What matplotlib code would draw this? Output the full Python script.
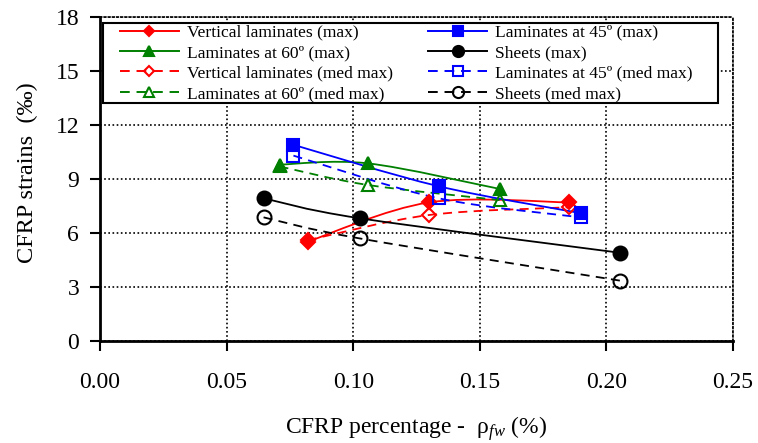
import matplotlib
matplotlib.use('Agg')
import matplotlib.pyplot as plt
from matplotlib.path import Path
from matplotlib.patches import PathPatch, Rectangle
from matplotlib.lines import Line2D

plt.rcParams['font.family'] = ['Liberation Serif', 'DejaVu Serif']
plt.rcParams['mathtext.fontset'] = 'custom'
plt.rcParams['mathtext.rm'] = 'Liberation Serif'
plt.rcParams['mathtext.it'] = 'Liberation Serif:italic'

# data (x = CFRP percentage, y = strains in permil)
vert_x = [0.082, 0.130, 0.1854]
vert_max = [5.52, 7.7, 7.7]
vert_med = [5.6, 7.0, 7.43]

lam45_x = [0.0764, 0.1337, 0.190]
lam45_max = [10.9, 8.6, 7.1]
lam45_med = [10.3, 7.93, 6.87]

lam60_x = [0.0709, 0.1057, 0.1578]
lam60_max = [9.8, 9.87, 8.45]
lam60_med = [9.7, 8.67, 7.83]

sheets_x = [0.0646, 0.1025, 0.2055]
sheets_max = [7.93, 6.82, 4.9]
sheets_med = [6.87, 5.7, 3.35]

x_ticks = [0.0, 0.05, 0.10, 0.15, 0.20, 0.25]
y_ticks = [0, 3, 6, 9, 12, 15, 18]


def smooth_path(xs, ys):
    # excel style smoothed line, bezier segments through the points
    pts = list(zip(xs, ys))
    n = len(pts)
    verts = [pts[0]]
    codes = [Path.MOVETO]
    for i in range(n - 1):
        p0 = pts[i - 1] if i > 0 else pts[i]
        p1 = pts[i]
        p2 = pts[i + 1]
        p3 = pts[i + 2] if i + 2 < n else pts[i + 1]
        c1 = (p1[0] + (p2[0] - p0[0]) / 6, p1[1] + (p2[1] - p0[1]) / 6)
        c2 = (p2[0] - (p3[0] - p1[0]) / 6, p2[1] - (p3[1] - p1[1]) / 6)
        verts += [c1, c2, p2]
        codes += [Path.CURVE4] * 3
    return Path(verts, codes)


fig = plt.figure(figsize=(7.58, 4.43), dpi=100)
ax = fig.add_axes([100 / 758, 1 - 341 / 443, 633 / 758, 324 / 443])

dash = (0, (5, 3.5))
series = [
    (vert_x, vert_max, 'red', '-', 'D', 'red', 7, 'Vertical laminates (max)'),
    (lam60_x, lam60_max, 'green', '-', '^', 'green', 9, 'Laminates at 60º (max)'),
    (vert_x, vert_med, 'red', dash, 'D', 'none', 7, 'Vertical laminates (med max)'),
    (lam60_x, lam60_med, 'green', dash, '^', 'none', 9, 'Laminates at 60º (med max)'),
    (lam45_x, lam45_max, 'blue', '-', 's', 'blue', 9, 'Laminates at 45º (max)'),
    (sheets_x, sheets_max, 'black', '-', 'o', 'black', 10, 'Sheets (max)'),
    (lam45_x, lam45_med, 'blue', dash, 's', 'none', 9, 'Laminates at 45º (med max)'),
    (sheets_x, sheets_med, 'black', dash, 'o', 'none', 10, 'Sheets (med max)'),
]

handles = []
for xs, ys, col, ls, mk, fc, ms, lab in series:
    patch = PathPatch(smooth_path(xs, ys), facecolor='none', edgecolor=col,
                      linestyle=ls, linewidth=1.3, zorder=3)
    ax.add_patch(patch)
    ax.plot(xs, ys, linestyle='none', marker=mk, markersize=ms, color=col,
            markerfacecolor=fc, markeredgecolor=col, markeredgewidth=1.5, zorder=4)
    handles.append(Line2D([], [], color=col, linestyle=ls, linewidth=1.4, marker=mk,
                          markersize=ms * 0.8, markerfacecolor=fc,
                          markeredgecolor=col, markeredgewidth=1.5, label=lab))

ax.set_xlim(0, 0.25)
ax.set_ylim(0, 18)
ax.set_xticks(x_ticks)
ax.set_xticklabels([f'{v:.2f}' for v in x_ticks])
ax.set_yticks(y_ticks)
ax.tick_params(axis='both', labelsize=17, direction='out', length=7, width=1.5,
               color='black')
ax.tick_params(axis='x', pad=15)
ax.tick_params(axis='y', pad=8)

ax.grid(True, color='black', linestyle=(0, (1, 1.5)), linewidth=1.2)
for side in ['top', 'right']:
    ax.spines[side].set_linestyle((0, (1, 1.5)))
    ax.spines[side].set_linewidth(1.2)
for side in ['left', 'bottom']:
    ax.spines[side].set_linewidth(2)

ax.set_xlabel(r'CFRP percentage -  ρ$_{fw}$ (%)', fontsize=17)
ax.set_ylabel('CFRP strains  (‰)', fontsize=17.5)
ax.yaxis.set_label_coords(-0.098, 0.52)
ax.xaxis.set_label_coords(0.5, -0.225)

# legend frame drawn as its own box (wider right margin like the original)
ax.add_patch(Rectangle((0.005, 0.736), 0.971, 0.245, transform=ax.transAxes,
                       facecolor='white', edgecolor='black', linewidth=1.5,
                       zorder=5))
leg = ax.legend(handles=handles, ncol=2, loc='upper left',
                bbox_to_anchor=(0.031, 0.977), borderaxespad=0,
                fontsize=12.6, handlelength=3.4, handletextpad=0.45,
                columnspacing=2.0, labelspacing=0.24, borderpad=0,
                frameon=False)
leg.set_zorder(6)

fig.savefig('out.png', dpi=100)
